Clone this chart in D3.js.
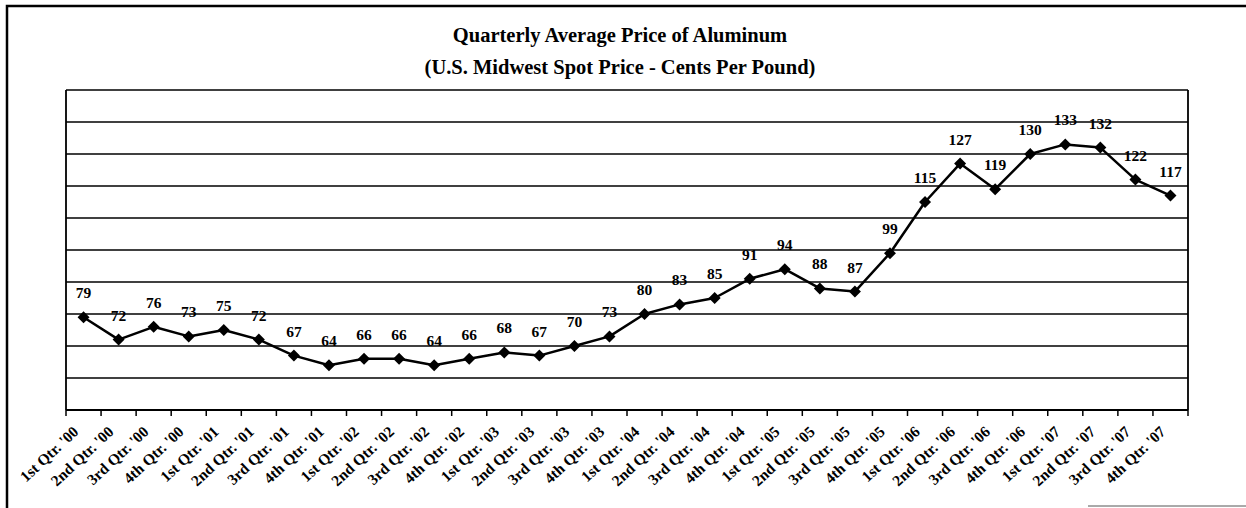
<!DOCTYPE html>
<html><head><meta charset="utf-8">
<script src="https://cdn.jsdelivr.net/npm/d3@7"></script>
<style>
html,body{margin:0;padding:0;background:#fff;}
svg{display:block;}
</style></head>
<body>
<svg id="chart" width="1246" height="508"></svg>
<script>
const titleLines = ["Quarterly Average Price of Aluminum", "(U.S. Midwest Spot Price - Cents Per Pound)"];
const quarters = ["1st Qtr. '00","2nd Qtr. '00","3rd Qtr. '00","4th Qtr. '00",
  "1st Qtr. '01","2nd Qtr. '01","3rd Qtr. '01","4th Qtr. '01",
  "1st Qtr. '02","2nd Qtr. '02","3rd Qtr. '02","4th Qtr. '02",
  "1st Qtr. '03","2nd Qtr. '03","3rd Qtr. '03","4th Qtr. '03",
  "1st Qtr. '04","2nd Qtr. '04","3rd Qtr. '04","4th Qtr. '04",
  "1st Qtr. '05","2nd Qtr. '05","3rd Qtr. '05","4th Qtr. '05",
  "1st Qtr. '06","2nd Qtr. '06","3rd Qtr. '06","4th Qtr. '06",
  "1st Qtr. '07","2nd Qtr. '07","3rd Qtr. '07","4th Qtr. '07"];
const prices = [79,72,76,73,75,72,67,64,66,66,64,66,68,67,70,73,80,83,85,91,94,88,87,99,115,127,119,130,133,132,122,117];
const yDomain = [50,150];
const yTicks = [50,60,70,80,90,100,110,120,130,140,150];

const svg = d3.select("#chart");
const serif = "'Liberation Serif','Times New Roman',serif";
const L = 66, R = 1188, T = 90, B = 410;

// outer frame (left + top)
svg.append("path").attr("d", `M7,508 L7,6 L1246,6`).attr("fill","none").attr("stroke","#000").attr("stroke-width",2.5);
svg.append("line").attr("x1",1088).attr("x2",1246).attr("y1",506).attr("y2",506).attr("stroke","#555").attr("stroke-width",1);

// title
svg.append("g").selectAll("text").data(titleLines).join("text")
  .attr("x", 620).attr("y", (d,i)=> 42 + i*32)
  .attr("text-anchor","middle")
  .attr("font-family", serif).attr("font-weight","bold").attr("font-size", 20.5)
  .text(d=>d);

const x = d3.scaleBand().domain(quarters).range([L,R]);
const y = d3.scaleLinear().domain(yDomain).range([B,T]);

// gridlines
svg.append("g").selectAll("line").data(yTicks).join("line")
  .attr("x1", L).attr("x2", R).attr("y1", d=>y(d)).attr("y2", d=>y(d))
  .attr("stroke","#000").attr("stroke-width",1.5);

// plot border sides
svg.append("path").attr("d", `M${L},${T} L${L},${B} M${R},${T} L${R},${B}`)
  .attr("stroke","#000").attr("stroke-width",1.8).attr("fill","none");

// x axis
const xAxis = svg.append("g").attr("transform", `translate(0,${B})`);
const tickPos = quarters.map(q=>x(q)).concat([R]);
xAxis.append("line").attr("x1",L).attr("x2",R).attr("stroke","#000").attr("stroke-width",2);
xAxis.selectAll("line.tick").data(tickPos).join("line").attr("class","tick")
  .attr("x1",d=>d).attr("x2",d=>d).attr("y1",0).attr("y2",6)
  .attr("stroke","#000").attr("stroke-width",1.5);
xAxis.selectAll("text").data(quarters).join("text")
  .attr("transform", d=>`translate(${x(d)+x.bandwidth()/2-4},${23}) rotate(-43)`)
  .attr("text-anchor","end")
  .attr("font-family", serif).attr("font-weight","bold").attr("font-size", 15.5)
  .text(d=>d);

// line
const cx = (d,i)=> x(quarters[i]) + x.bandwidth()/2;
svg.append("path").datum(prices)
  .attr("d", d3.line().x(cx).y(d=>y(d)))
  .attr("fill","none").attr("stroke","#000").attr("stroke-width",2.5).attr("stroke-linejoin","round");

// markers
svg.append("g").selectAll("path").data(prices).join("path")
  .attr("d", (d,i)=>{const px=cx(d,i), py=y(d), r=6; return `M${px},${py-r} L${px+r},${py} L${px},${py+r} L${px-r},${py} Z`;})
  .attr("fill","#000");

// data labels
svg.append("g").selectAll("text").data(prices).join("text")
  .attr("x", (d,i)=>cx(d,i)).attr("y", d=>y(d)-19)
  .attr("text-anchor","middle")
  .attr("font-family", serif).attr("font-weight","bold").attr("font-size", 15.5)
  .text(d=>d);
</script>
</body></html>
